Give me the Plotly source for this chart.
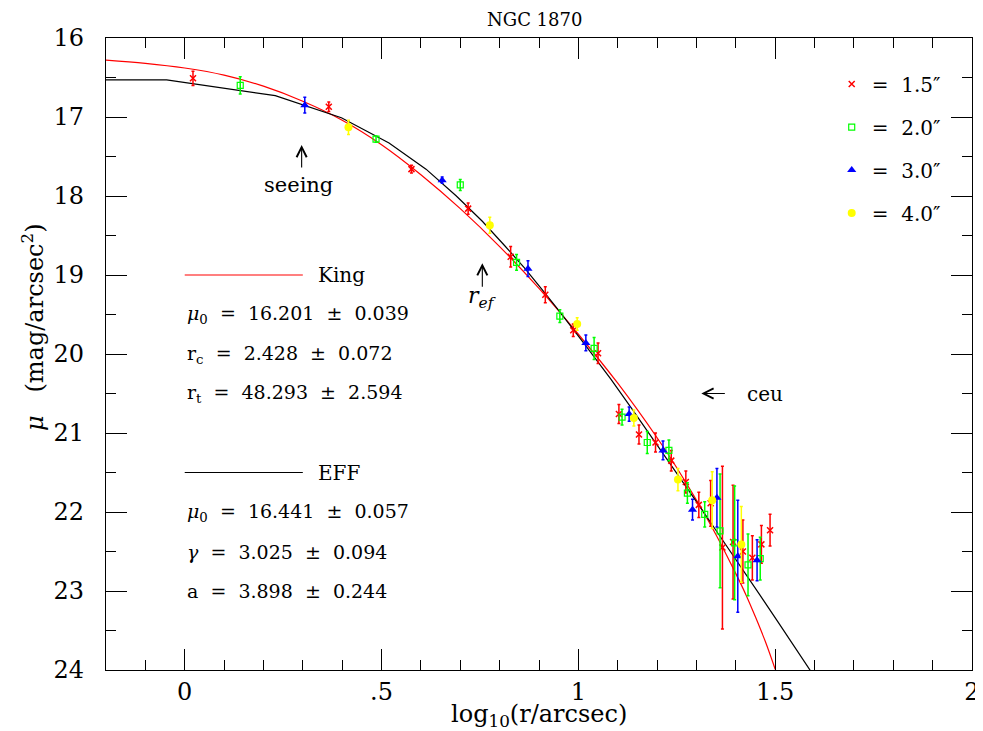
import plotly.graph_objects as go

# ---------------- data ----------------
red_x   = [0.021, 0.366, 0.576, 0.720, 0.828, 0.916, 0.987, 1.050, 1.103, 1.154, 1.196,
           1.236, 1.273, 1.306, 1.336, 1.366, 1.393, 1.418, 1.442, 1.465, 1.487]
red_mu  = [16.51, 16.87, 17.66, 18.16, 18.77, 19.25, 19.70, 19.99, 20.76, 21.02, 21.12,
           21.35, 21.62, 21.91, 21.89, 22.45, 22.38, 22.50, 22.58, 22.41, 22.23]
red_err = [0.09, 0.06, 0.05, 0.07, 0.13, 0.10, 0.08, 0.13, 0.12, 0.12, 0.12,
           0.13, 0.14, 0.16, 0.29, 1.03, 0.72, 0.40, 0.28, 0.24, 0.20]

green_x   = [0.141, 0.486, 0.700, 0.843, 0.953, 1.040, 1.111, 1.175, 1.230, 1.277,
             1.321, 1.360, 1.397, 1.431, 1.462]
green_mu  = [16.60, 17.28, 17.86, 18.84, 19.52, 19.93, 20.80, 21.12, 21.22, 21.76,
             22.03, 22.24, 22.39, 22.67, 22.59]
green_err = [0.11, 0.04, 0.07, 0.10, 0.08, 0.14, 0.10, 0.14, 0.13, 0.13,
             0.16, 0.72, 0.72, 0.39, 0.27]

blue_x   = [0.305, 0.654, 0.872, 1.019, 1.129, 1.215, 1.290, 1.352, 1.405, 1.454]
blue_mu  = [16.85, 17.80, 18.92, 19.86, 20.76, 21.22, 21.97, 21.82, 22.56, 22.61]
blue_err = [0.10, 0.04, 0.10, 0.10, 0.09, 0.12, 0.13, 0.37, 0.71, 0.26]

yellow_x   = [0.416, 0.775, 0.997, 1.141, 1.253, 1.340, 1.414]
yellow_mu  = [17.13, 18.37, 19.62, 20.81, 21.59, 21.85, 22.41]
yellow_err = [0.09, 0.10, 0.08, 0.10, 0.14, 0.36, 0.48]

king_x  = [-0.2, -0.1, 0.0, 0.1, 0.2, 0.3, 0.4, 0.5, 0.6, 0.7, 0.8, 0.9, 1.0, 1.1,
           1.2, 1.25, 1.3, 1.35, 1.4, 1.425, 1.45, 1.475, 1.5]
king_mu = [16.28, 16.32, 16.38, 16.47, 16.61, 16.80, 17.04, 17.35, 17.73, 18.16, 18.64,
           19.17, 19.75, 20.37, 21.06, 21.44, 21.85, 22.29, 22.78, 23.04, 23.33, 23.64, 23.99]

eff_x  = [-0.2, -0.046, 0.230, 0.398, 0.519, 0.613, 0.690, 0.756, 0.813, 0.863, 0.909,
          0.949, 1.021, 1.083, 1.137, 1.185, 1.248, 1.303, 1.352, 1.410, 1.461, 1.507,
          1.548, 1.586, 1.603]
eff_mu = [16.53, 16.53, 16.73, 17.01, 17.33, 17.66, 18.00, 18.32, 18.63, 18.91, 19.19,
          19.44, 19.91, 20.32, 20.70, 21.04, 21.49, 21.89, 22.25, 22.67, 23.05, 23.39,
          23.70, 23.98, 24.11]

x_tickvals = [0, 0.5, 1, 1.5, 2]
x_ticktext = ["0", ".5", "1", "1.5", "2"]
y_tickvals = [16, 17, 18, 19, 20, 21, 22, 23, 24]
y_ticktext = ["16", "17", "18", "19", "20", "21", "22", "23", "24"]

NB = "\u00a0"
series_labels = ["=" + NB * 2 + "1.5\u2033", "=" + NB * 2 + "2.0\u2033",
                 "=" + NB * 2 + "3.0\u2033", "=" + NB * 2 + "4.0\u2033"]

def prm(name, val, err):
    return name + NB * 2 + "=" + NB * 2 + val + NB * 2 + "\u00b1" + NB * 2 + err

king_text = [prm("<i>\u03bc</i><sub>0</sub>", "16.201", "0.039"),
             prm("r<sub>c</sub>", "2.428", "0.072"),
             prm("r<sub>t</sub>", "48.293", "2.594")]
eff_text = [prm("<i>\u03bc</i><sub>0</sub>", "16.441", "0.057"),
            prm("<i>\u03b3</i>", "3.025", "0.094"),
            prm("a", "3.898", "0.244")]

FONT = "DejaVu Serif"

fig = go.Figure()

# model curves
fig.add_trace(go.Scatter(x=king_x, y=king_mu, mode="lines",
                         line=dict(color="#ff0000", width=1.2, shape="spline"),
                         showlegend=False, hoverinfo="skip"))
fig.add_trace(go.Scatter(x=eff_x, y=eff_mu, mode="lines", line=dict(color="black", width=1.2),
                         showlegend=False, hoverinfo="skip"))

def add_series(x, y, err, color, symbol, size, name, group, line_w=None):
    marker = dict(color=color, size=size, symbol=symbol)
    if line_w is not None:
        marker["line"] = dict(color=color, width=line_w)
    fig.add_trace(go.Scatter(
        x=x, y=y, mode="markers", name=name, legendgroup=group,
        marker=marker,
        error_y=dict(type="data", array=err, color=color, thickness=1.5, width=1.5),
    ))

add_series(red_x, red_mu, red_err, "#ff0000", "x-thin", 6, series_labels[0], "a", 1.5)
add_series(green_x, green_mu, green_err, "#00ff00", "square-open", 6, series_labels[1], "b", 1.2)
add_series(blue_x, blue_mu, blue_err, "#0000ff", "triangle-up", 8, series_labels[2], "c")
add_series(yellow_x, yellow_mu, yellow_err, "#ffff00", "circle", 8, series_labels[3], "d")

annotations = []
rows_k = [19.5, 20.0, 20.5]
rows_e = [22.0, 22.5, 23.0]
for t, yy in zip(king_text + eff_text, rows_k + rows_e):
    annotations.append(dict(x=0, y=yy, xref="x", yref="y", text=t, showarrow=False,
                            xanchor="left", yanchor="middle",
                            font=dict(size=19, family=FONT, color="black")))
annotations.append(dict(x=0.333, y=19.0, xref="x", yref="y", text="King", showarrow=False,
                        xanchor="left", yanchor="middle", font=dict(size=20, family=FONT, color="black")))
annotations.append(dict(x=0.333, y=21.5, xref="x", yref="y", text="EFF", showarrow=False,
                        xanchor="left", yanchor="middle", font=dict(size=20, family=FONT, color="black")))

# arrows
arrow_kw = dict(xref="x", yref="y", text="", showarrow=True, arrowhead=5, arrowsize=1.8,
                arrowwidth=1.1, arrowcolor="black", standoff=0, startstandoff=0)
annotations.append(dict(x=0.297, y=17.354, ax=0, ay=24, **arrow_kw))
annotations.append(dict(x=0.756, y=18.85, ax=0, ay=25, **arrow_kw))
annotations.append(dict(x=1.3124, y=20.50, ax=25, ay=0, **arrow_kw))
annotations.append(dict(x=0.288, y=17.86, xref="x", yref="y", text="seeing", showarrow=False,
                        xanchor="center", yanchor="middle", font=dict(size=21, family=FONT, color="black")))
annotations.append(dict(x=0.755, y=19.28, xref="x", yref="y", text="<i>r</i><sub><i>ef</i></sub>",
                        showarrow=False, xanchor="center", yanchor="middle",
                        font=dict(size=22, family=FONT, color="black")))
annotations.append(dict(x=1.4225, y=20.50, xref="x", yref="y", text="ceu", showarrow=False,
                        xanchor="left", yanchor="middle", font=dict(size=20, family=FONT, color="black")))

# titles
annotations.append(dict(x=0.495, y=1.0285, xref="paper", yref="paper", text="NGC 1870",
                        showarrow=False, xanchor="center", yanchor="middle",
                        font=dict(size=18, family=FONT, color="black")))
annotations.append(dict(x=-0.0843, y=0.5427, xref="paper", yref="paper",
                        text="<i>\u03bc</i>" + NB * 3 + "(mag/arcsec<sup>2</sup>)", showarrow=False,
                        textangle=-90, xanchor="center", yanchor="middle",
                        font=dict(size=24, family=FONT, color="black")))
annotations.append(dict(x=0.5, y=-0.0725, xref="paper", yref="paper",
                        text="log<sub>10</sub>(r/arcsec)", showarrow=False,
                        xanchor="center", yanchor="middle",
                        font=dict(size=24, family=FONT, color="black")))

shapes = [
    dict(type="line", xref="x", yref="y", x0=0, x1=0.3, y0=19.0, y1=19.0,
         line=dict(color="#ff0000", width=1.2)),
    dict(type="line", xref="x", yref="y", x0=0, x1=0.3, y0=21.5, y1=21.5,
         line=dict(color="black", width=1.2)),
]

axis_common = dict(showline=True, linecolor="black", linewidth=1.3, mirror="ticks",
                   ticks="inside", tickcolor="black", tickwidth=1, ticklen=21,
                   showgrid=False, zeroline=False, automargin=False,
                   tickfont=dict(size=24, family=FONT, color="black"))

# the page body adds an 8 px offset, so the figure is sized to the visible window
fig.update_layout(
    template="none",
    width=975, height=723,
    margin=dict(l=98, r=11, t=30, b=61, autoexpand=False),
    paper_bgcolor="white", plot_bgcolor="white",
    xaxis=dict(range=[-0.2, 2.0], tickvals=x_tickvals, ticktext=x_ticktext,
               minor=dict(dtick=0.1, tick0=0, ticks="inside", ticklen=10, tickcolor="black",
                          tickwidth=1, showgrid=False),
               ticklabelstandoff=0, **axis_common),
    yaxis=dict(range=[24, 16], tickvals=y_tickvals, ticktext=y_ticktext,
               minor=dict(dtick=0.5, tick0=16, ticks="inside", ticklen=10, tickcolor="black",
                          tickwidth=1, showgrid=False),
               ticklabelstandoff=16, **axis_common),
    legend=dict(x=0.838, y=0.958, xanchor="left", yanchor="top", bgcolor="rgba(0,0,0,0)",
                font=dict(size=20, family=FONT, color="black"), tracegroupgap=14,
                itemclick=False, borderwidth=0),
    annotations=annotations,
    shapes=shapes,
    showlegend=True,
)

fig.write_html("out.html")
